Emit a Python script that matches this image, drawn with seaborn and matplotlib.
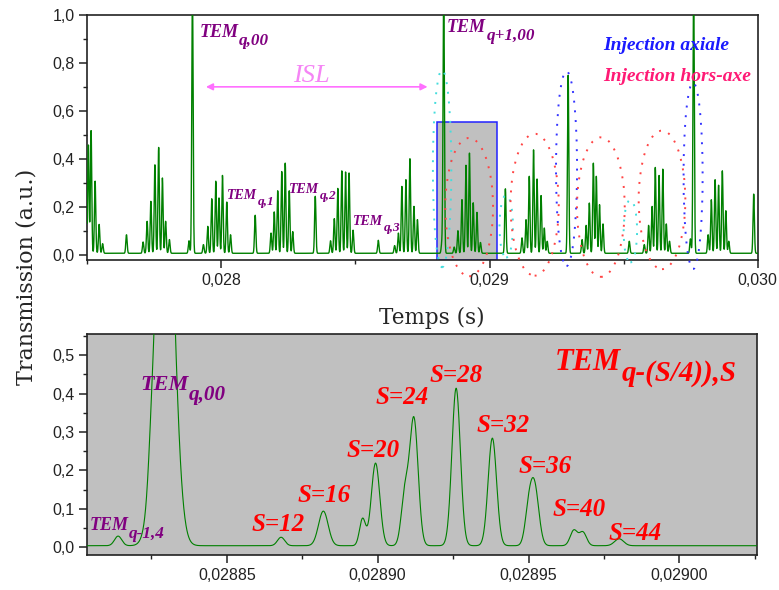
import numpy as np
import pandas as pd
import matplotlib
matplotlib.use("Agg")
import matplotlib.pyplot as plt
import seaborn as sns
from matplotlib.patches import Ellipse, Rectangle
from matplotlib.ticker import FuncFormatter, MultipleLocator

# --- top panel: peak positions (s) and heights
top_t = [0.027504, 0.027514, 0.027529, 0.027544, 0.027557, 0.027646, 0.027708, 0.027723,
         0.027737, 0.027752, 0.027766, 0.027780, 0.027792, 0.027806, 0.027879, 0.027892,
         0.027933, 0.027949, 0.027964, 0.027979, 0.027991, 0.028004, 0.028020, 0.028034,
         0.028126, 0.028185, 0.028197, 0.028210, 0.028225, 0.028238, 0.028253, 0.028266,
         0.028350, 0.028407, 0.028421, 0.028434, 0.028449, 0.028463, 0.028476, 0.028491,
         0.028585, 0.028646, 0.028660, 0.028673, 0.028688, 0.028703, 0.028718, 0.028731,
         0.028822, 0.028829, 0.028868, 0.028882, 0.028897, 0.028912, 0.028925, 0.028939,
         0.028953, 0.028966, 0.029059, 0.029121, 0.029136, 0.029148, 0.029164, 0.029177,
         0.029192, 0.029204, 0.029215, 0.029293, 0.029345, 0.029360, 0.029372, 0.029387,
         0.029398, 0.029410, 0.029423, 0.029521, 0.029577, 0.029593, 0.029606, 0.029618,
         0.029632, 0.029646, 0.029659, 0.029671, 0.029749, 0.029761, 0.029815, 0.029827,
         0.029841, 0.029854, 0.029868, 0.029881, 0.029892, 0.029985]
top_h = [0.45, 0.51, 0.30, 0.12, 0.04, 0.077, 0.047, 0.133,
         0.216, 0.368, 0.44, 0.313, 0.133, 0.057, 0.052, 1.1,
         0.036, 0.112, 0.227, 0.30, 0.23, 0.324, 0.213, 0.077,
         0.158, 0.084, 0.172, 0.26, 0.34, 0.375, 0.26, 0.09,
         0.237, 0.052, 0.144, 0.27, 0.343, 0.338, 0.334, 0.096,
         0.054, 0.032, 0.084, 0.278, 0.306, 0.393, 0.195, 0.14,
         0.04, 1.1, 0.026, 0.094, 0.223, 0.366, 0.417, 0.21,
         0.17, 0.045, 0.268, 0.064, 0.14, 0.32, 0.43, 0.309,
         0.24, 0.105, 0.05, 0.74, 0.057, 0.116, 0.209, 0.375,
         0.32, 0.202, 0.122, 0.05, 0.036, 0.116, 0.195, 0.357,
         0.324, 0.35, 0.122, 0.05, 0.06, 1.1, 0.077, 0.223,
         0.306, 0.283, 0.343, 0.177, 0.05, 0.246]
top_base = 0.008
top_sigma = 0.0000025

# --- bottom panel (zoom on the grey window): peaks, heights, widths
zoom_t = [0.028814, 0.028825, 0.0288295, 0.028868, 0.028882, 0.028895, 0.0288993, 0.028909,
          0.028912, 0.028926, 0.028938, 0.028950, 0.028952, 0.028965, 0.028968, 0.028980]
zoom_h = [0.025, 0.05, 1.2, 0.022, 0.09, 0.07, 0.215, 0.13,
          0.33, 0.41, 0.28, 0.08, 0.15, 0.04, 0.035, 0.018]
zoom_w = [1.2e-6, 1.0e-6, 2.8e-6, 1.2e-6, 1.6e-6, 1.0e-6, 1.4e-6, 1.2e-6,
          1.4e-6, 1.4e-6, 1.4e-6, 1.2e-6, 1.4e-6, 1.2e-6, 1.2e-6, 1.5e-6]
zoom_base = 0.004

# dotted injection ellipses: centre x, centre y, width, height, colour
ell_x = [0.028823, 0.028924, 0.029062, 0.029168, 0.029287, 0.029415, 0.029525, 0.029643, 0.029759]
ell_y = [0.36, 0.20, 0.12, 0.21, 0.36, 0.20, 0.10, 0.23, 0.33]
ell_w = [0.0000687, 0.000178, 0.00005, 0.00018, 0.0000784, 0.000178, 0.00005, 0.000174, 0.000071]
ell_h = [0.82, 0.575, 0.26, 0.59, 0.81, 0.58, 0.26, 0.576, 0.775]
ell_c = ["#44dddd", "#ff4444", "#44dddd", "#ff4444", "#3333ff", "#ff4444", "#44dddd", "#ff4444", "#3333ff"]

s_labels = ["S=12", "S=16", "S=20", "S=24", "S=28", "S=32", "S=36", "S=40", "S=44"]
s_x = [0.0288582, 0.0288735, 0.0288897, 0.0288992, 0.0289173, 0.0289327, 0.0289467, 0.0289581, 0.0289766]
s_y = [0.043, 0.117, 0.235, 0.374, 0.43, 0.30, 0.192, 0.081, 0.019]


def build(t, pos, hts, wid, base):
    y = np.full_like(t, base)
    for p, h, w in zip(pos, hts, wid):
        y += h * np.exp(-0.5 * ((t - p) / w) ** 2)
    return y


def tem(ax, x, y, sub, size, color, drop=0.22):
    # "TEM" with a large, well lowered subscript as in the original figure
    font = dict(family="Liberation Serif", style="italic", weight="bold", color=color, zorder=5)
    t = ax.text(x, y, "TEM", fontsize=size, **font)
    ax.annotate(sub, xy=(1, 0), xycoords=t, xytext=(0.5, -drop * size),
                textcoords="offset points", ha="left", va="baseline",
                fontsize=size * 0.95, **font)


t_top = np.linspace(0.0275, 0.030, 8000)
df_top = pd.DataFrame({"t": t_top,
                       "v": build(t_top, top_t, top_h, [top_sigma] * len(top_t), top_base)})
t_zoom = np.linspace(0.0288038, 0.0290257, 3000)
df_zoom = pd.DataFrame({"t": t_zoom, "v": build(t_zoom, zoom_t, zoom_h, zoom_w, zoom_base)})

sns.set_style("ticks")
plt.rcParams["font.family"] = ["Liberation Sans", "DejaVu Sans"]

fig = plt.figure(figsize=(7.79, 5.9), dpi=100)
ax1 = fig.add_axes([0.1121, 0.5593, 0.8606, 0.4158])
ax2 = fig.add_axes([0.1121, 0.0588, 0.8597, 0.3751])

green = "#008000"
sns.lineplot(data=df_top, x="t", y="v", ax=ax1, color=green, linewidth=1.0, estimator=None, zorder=3)
sns.lineplot(data=df_zoom, x="t", y="v", ax=ax2, color=green, linewidth=0.8, estimator=None, zorder=3)

ax1.set_xlim(0.0275, 0.030)
ax1.set_ylim(-0.02, 1.0)
ax2.set_xlim(0.0288038, 0.0290257)
ax2.set_ylim(-0.021, 0.555)
ax2.set_facecolor("#c0c0c0")

ax1.add_patch(Rectangle((0.028804, -0.02), 0.000222, 0.575, facecolor="#c0c0c0",
                        edgecolor="#2222ff", linewidth=1.1, zorder=1))
for cx, cy, w, h, c in zip(ell_x, ell_y, ell_w, ell_h, ell_c):
    ax1.add_patch(Ellipse((cx, cy), w, h, fill=False, edgecolor=c, linewidth=1.4,
                          linestyle=(0, (1, 4)), clip_on=False, zorder=4))

# formatting of both axes
ax1.xaxis.set_major_locator(MultipleLocator(0.001))
ax1.xaxis.set_minor_locator(MultipleLocator(0.0005))
ax1.yaxis.set_major_locator(MultipleLocator(0.2))
ax1.yaxis.set_minor_locator(MultipleLocator(0.1))
ax1.xaxis.set_major_formatter(FuncFormatter(lambda v, p: f"{v:.3f}".replace(".", ",")))
ax1.yaxis.set_major_formatter(FuncFormatter(lambda v, p: f"{v:.1f}".replace(".", ",")))
ax2.xaxis.set_major_locator(MultipleLocator(0.00005))
ax2.xaxis.set_minor_locator(MultipleLocator(0.000025))
ax2.yaxis.set_major_locator(MultipleLocator(0.1))
ax2.yaxis.set_minor_locator(MultipleLocator(0.05))
ax2.xaxis.set_major_formatter(FuncFormatter(lambda v, p: f"{v:.5f}".replace(".", ",")))
ax2.yaxis.set_major_formatter(FuncFormatter(lambda v, p: f"{v:.1f}".replace(".", ",")))

for ax in (ax1, ax2):
    ax.set_xlabel("")
    ax.set_ylabel("")
    for sp in ax.spines.values():
        sp.set_visible(True)
        sp.set_linewidth(1.2)
        sp.set_color("#222222")
    ax.tick_params(which="major", length=6, width=1.1, direction="out", labelsize=11.5,
                   colors="#222222", pad=3)
    ax.tick_params(which="minor", length=3, width=1.0, direction="out", colors="#222222")

fig.text(0.554, 0.461, "Temps (s)", ha="center", va="center", fontsize=15.5, family="DejaVu Serif")
fig.text(0.034, 0.53, "Transmission (a.u.)", rotation=90, ha="center", va="center",
         fontsize=16, family="DejaVu Serif")

purple = "#800080"
tem(ax1, 0.027918, 0.906, "q,00", 13, purple)
tem(ax1, 0.028841, 0.929, "q+1,00", 13, purple)
tem(ax1, 0.028020, 0.233, "q,1", 10, purple)
tem(ax1, 0.028253, 0.260, "q,2", 10, purple)
tem(ax1, 0.028490, 0.126, "q,3", 10, purple)
ax1.text(0.029423, 0.853, "Injection axiale", color="#1a1aff", fontsize=14,
         family="Liberation Serif", style="italic", weight="bold")
ax1.text(0.029425, 0.724, "Injection hors-axe", color="#ff1a75", fontsize=14,
         family="Liberation Serif", style="italic", weight="bold")
ax1.text(0.028269, 0.72, "ISL", color="#f585f5", fontsize=19, family="Liberation Serif",
         style="italic")
ax1.annotate("", xy=(0.027932, 0.70), xytext=(0.028779, 0.70),
             arrowprops=dict(arrowstyle="<|-|>", color="#ff70ff", lw=1.2, mutation_scale=10))

tem(ax2, 0.0288045, 0.045, "q-1,4", 13, purple)
tem(ax2, 0.0288213, 0.41, "q,00", 16, purple)
for lab, x, y in zip(s_labels, s_x, s_y):
    ax2.text(x, y, lab, color="#ff0000", fontsize=18, family="Liberation Serif",
             style="italic", weight="bold", zorder=5)
tem(ax2, 0.0289587, 0.462, "q-(S/4)),S", 22, "#ff0000", drop=0.12)

fig.savefig("out.png", dpi=100)
